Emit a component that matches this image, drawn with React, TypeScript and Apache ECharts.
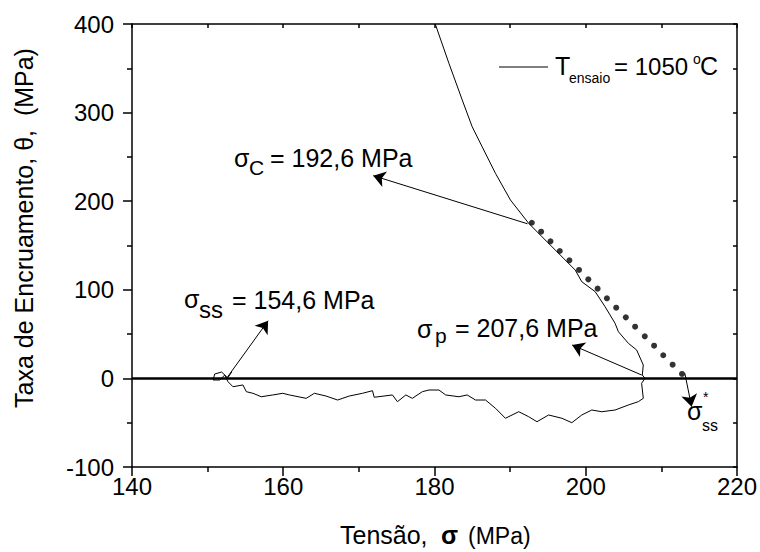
import React, { useEffect, useRef } from 'react';
import * as echarts from 'echarts';

// ---- data ----
const xTickMin = 140;
const xTickMax = 220;
const yTickMin = -100;
const yTickMax = 400;

const curveStress = [180.1, 181.91, 183.67, 184.98, 186.3, 188.06, 190.04, 192.45, 194.65, 197.29, 198.61, 199.48, 201.25, 202.56, 203.88, 204.32, 205.64, 206.73, 207.61, 207.48, 207.83, 207.39, 207.61, 206.95, 205.64, 203.88, 202.12, 200.8, 199.48, 198.16, 196.85, 195.09, 193.55, 192.45, 191.14, 189.38, 188.06, 186.75, 185.43, 184.32, 183.23, 181.48, 180.59, 179.27, 178.39, 177.07, 176.21, 175.1, 174.44, 172.03, 171.8, 170.48, 168.73, 167.19, 165.66, 164.12, 163.03, 160.82, 159.94, 158.62, 157.09, 155.99, 155.12, 154.67, 153.35, 152.69, 152.26, 151.6, 150.72, 150.94, 151.86, 152.65, 153.18];
const curveTheta = [400, 355.6, 314.2, 284.1, 261.5, 231.5, 201.4, 175.1, 156.2, 133.6, 122.3, 109.1, 97.9, 80.9, 62.2, 52.7, 39.6, 32.1, 15.1, 3.8, 0.1, -5.5, -22.5, -26.3, -30.0, -35.7, -37.6, -35.7, -41.3, -50.0, -45.0, -41.3, -48.9, -43.2, -37.6, -45.0, -33.7, -24.4, -24.4, -18.7, -20.7, -18.7, -13.1, -13.1, -15.0, -22.5, -18.7, -26.3, -18.7, -21.3, -13.9, -16.8, -19.9, -24.4, -19.9, -16.8, -22.5, -18.7, -16.8, -18.7, -20.7, -16.8, -15.0, -7.4, -9.4, -3.7, 3.8, -1.8, -1.8, 5.0, 7.2, 0.5, 7.2];

const dotStress = [192.87, 194.1, 195.34, 196.57, 197.84, 199.11, 200.34, 201.57, 202.8, 204.03, 205.3, 206.53, 207.81, 209.04, 210.25, 211.49, 212.73];
const dotTheta = [175.7, 165.6, 154.7, 143.8, 133.3, 122.4, 111.8, 101.3, 90.4, 79.8, 68.9, 58.4, 47.5, 36.9, 26.1, 15.5, 5.0];

const zeroLineStress = [140, 220];
const zeroLineTheta = [0, 0];

// arrows: [fromStress, fromTheta, toStress, toTheta]
const arrowSigmaC = [192.3, 174.5, 171.9, 228.8];
const arrowSigmaSS = [152.5, 0, 158.0, 65.1];
const arrowSigmaP = [207.4, 3.8, 198.2, 37.7];
const arrowSigmaSSStar = [213.1, 5.8, 214.0, -31.9];

const labelSigmaC = '= 192,6 MPa';
const labelSigmaSS = '= 154,6 MPa';
const labelSigmaP = '= 207,6 MPa';
const legendValue = '= 1050';
const yTitle = 'Taxa de Encruamento, θ,  (MPa)';

const FONT = '"Liberation Sans", Arial, Helvetica, sans-serif';

function txt(text: string, x: number, baseline: number, size: number, weight: string = 'normal') {
  return {
    type: 'text',
    x,
    y: baseline - 0.3465 * size,
    silent: true,
    style: {
      text,
      fontSize: size,
      fontFamily: FONT,
      fontWeight: weight,
      fill: '#000',
      align: 'left',
      textAlign: 'left',
      verticalAlign: 'middle',
      textVerticalAlign: 'middle',
    },
  };
}

export default function App() {
  const ref = useRef<HTMLDivElement>(null);

  useEffect(() => {
    document.body.style.margin = '0';
    if (!ref.current) return;
    const chart = echarts.init(ref.current, undefined, { renderer: 'svg' });

    const curve = curveStress.map((s, i) => [s, curveTheta[i]]);
    const dots = dotStress.map((s, i) => [s, dotTheta[i]]);
    const zero = zeroLineStress.map((s, i) => [s, zeroLineTheta[i]]);
    const arrows = [arrowSigmaC, arrowSigmaSS, arrowSigmaP, arrowSigmaSSStar].map((a) => [
      { coord: [a[0], a[1]] },
      { coord: [a[2], a[3]] },
    ]);

    const axisLine = { show: true, onZero: false, lineStyle: { color: '#000', width: 1.5 } };

    chart.setOption({
      animation: false,
      backgroundColor: '#fff',
      grid: { left: 132, right: 21, top: 24, bottom: 85 },
      xAxis: [
        {
          type: 'value',
          min: xTickMin,
          max: xTickMax,
          interval: 20,
          position: 'bottom',
          axisLine,
          axisTick: { show: true, length: 9, lineStyle: { color: '#000', width: 1.5 } },
          minorTick: { show: true, splitNumber: 2, length: 5, lineStyle: { color: '#000', width: 1.5 } },
          axisLabel: { color: '#000', fontSize: 24, fontFamily: FONT, margin: 7 },
          splitLine: { show: false },
          minorSplitLine: { show: false },
        },
        {
          type: 'value',
          min: xTickMin,
          max: xTickMax,
          interval: 10,
          position: 'top',
          axisLine,
          axisTick: { show: true, inside: true, length: 4, lineStyle: { color: '#000', width: 1.5 } },
          axisLabel: { show: false },
          splitLine: { show: false },
        },
      ],
      yAxis: [
        {
          type: 'value',
          min: yTickMin,
          max: yTickMax,
          interval: 100,
          position: 'left',
          axisLine,
          axisTick: { show: true, length: 9, lineStyle: { color: '#000', width: 1.5 } },
          minorTick: { show: true, splitNumber: 2, length: 5, lineStyle: { color: '#000', width: 1.5 } },
          axisLabel: { color: '#000', fontSize: 24, fontFamily: FONT, margin: 18 },
          splitLine: { show: false },
          minorSplitLine: { show: false },
        },
        {
          type: 'value',
          min: yTickMin,
          max: yTickMax,
          interval: 50,
          position: 'right',
          axisLine,
          axisTick: { show: true, inside: true, length: 4, lineStyle: { color: '#000', width: 1.5 } },
          axisLabel: { show: false },
          splitLine: { show: false },
        },
      ],
      series: [
        {
          type: 'line',
          data: zero,
          xAxisIndex: 0,
          yAxisIndex: 0,
          symbol: 'none',
          lineStyle: { color: '#000', width: 2.5 },
          silent: true,
          z: 2,
          markLine: {
            silent: true,
            symbol: ['none', 'arrow'],
            symbolSize: 12,
            label: { show: false },
            lineStyle: { color: '#000', width: 1, type: 'solid' },
            itemStyle: { color: '#000' },
            data: arrows,
          },
        },
        {
          type: 'line',
          data: curve,
          xAxisIndex: 0,
          yAxisIndex: 0,
          symbol: 'none',
          showSymbol: false,
          lineStyle: { color: '#000', width: 1 },
          silent: true,
          z: 3,
        },
        {
          type: 'scatter',
          data: dots,
          xAxisIndex: 0,
          yAxisIndex: 0,
          symbol: 'circle',
          symbolSize: 6,
          itemStyle: { color: '#000' },
          silent: true,
          z: 4,
        },
      ],
      graphic: [
        // sigma_c
        txt('σ', 234, 167, 25),
        txt('C', 249, 175, 21),
        txt(labelSigmaC, 270, 167, 25),
        // sigma_ss
        txt('σ', 184, 308, 25),
        txt('ss', 199, 318, 24),
        txt(labelSigmaSS, 232, 309, 25),
        // sigma_p
        txt('σ', 417, 338, 25),
        txt('p', 435, 343, 21),
        txt(labelSigmaP, 455, 337, 25),
        // sigma_ss*
        txt('σ', 687, 420, 25),
        txt('ss', 702, 431, 16),
        txt('*', 703, 402, 14),
        // legend
        {
          type: 'line',
          silent: true,
          shape: { x1: 499, y1: 67, x2: 548, y2: 67 },
          style: { stroke: '#000', lineWidth: 1 },
        },
        txt('T', 555, 75, 25),
        txt('ensaio', 569, 83, 14),
        txt(legendValue, 614, 75, 24),
        txt('o', 693, 64, 14),
        txt('C', 700, 75, 25),
        // x title
        txt('Tensão,', 340, 544, 25),
        txt('σ', 441, 544, 25, 'bold'),
        txt('(MPa)', 468, 544, 23),
        // y title
        {
          type: 'text',
          x: 24,
          y: 228,
          rotation: Math.PI / 2,
          silent: true,
          style: {
            text: yTitle,
            fontSize: 25,
            fontFamily: FONT,
            fill: '#000',
            align: 'center',
            textAlign: 'center',
            verticalAlign: 'middle',
            textVerticalAlign: 'middle',
          },
        },
      ],
    });

    return () => {
      chart.dispose();
    };
  }, []);

  return <div ref={ref} style={{ width: 760, height: 552 }} />;
}
